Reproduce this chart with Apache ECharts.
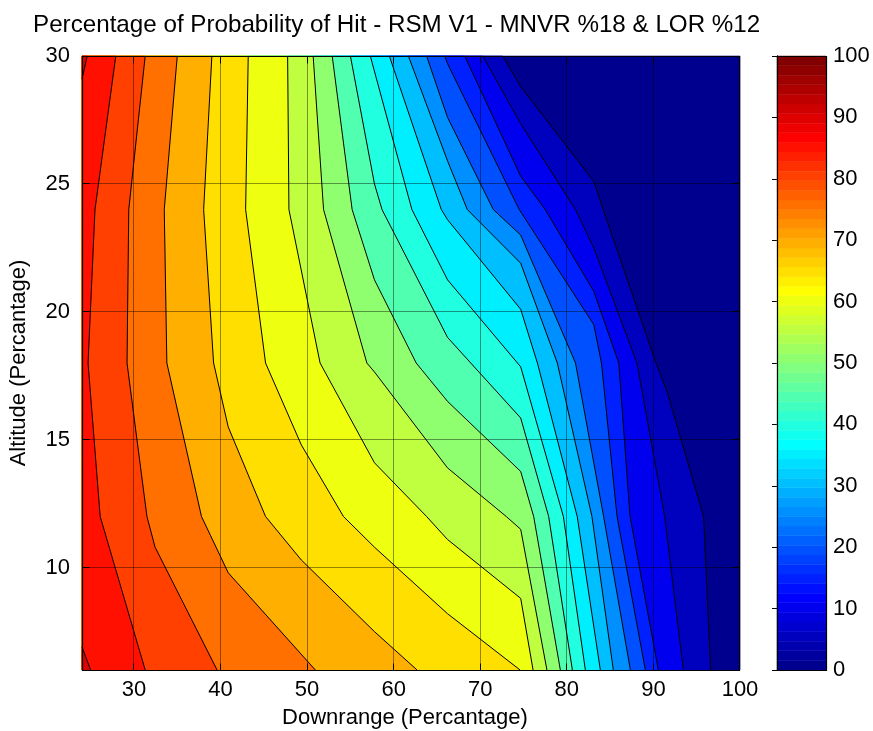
<!DOCTYPE html>
<html>
<head>
<meta charset="utf-8">
<script src="https://cdn.jsdelivr.net/npm/echarts@6/dist/echarts.min.js"></script>
<style>
  html, body { margin: 0; padding: 0; background: #fff; }
  #chart { width: 873px; height: 731px; }
</style>
</head>
<body>
<div id="chart"></div>
<script>
// Axis ranges and tick labels
const downrangeRange = [24, 100];
const altitudeRange = [6, 30];
const xTicks = [30, 40, 50, 60, 70, 80, 90, 100];
const yTicks = [10, 15, 20, 25, 30];
const colorbarTicks = [0, 10, 20, 30, 40, 50, 60, 70, 80, 90, 100];

// Iso-lines of probability of hit, points are [downrange, altitude],
// each listed from the top edge (altitude 30) downward.
const iso05 = [[72.6, 30], [74.67, 28.8], [83.11, 25.1], [84.2, 24], [90.3, 18], [91.56, 16.9], [95.8, 12], [96.6, 6]];
const iso10 = [[70.3, 30], [74.67, 27.35], [81.0, 24], [83.11, 22.5], [88.1, 18], [91.3, 12], [93.46, 6]];
const iso15 = [[68.2, 30], [74.67, 25.3], [77.5, 24], [83.11, 20.8], [86.0, 18], [87.3, 12], [90.57, 6]];
const iso20 = [[65.9, 30], [66.22, 29.7], [74.5, 24], [83.11, 19.5], [84.0, 18], [85.8, 12], [89.07, 6]];
const iso25 = [[63.8, 30], [66.22, 27.6], [71.5, 24], [74.67, 23.0], [81.0, 18], [84.25, 12], [87.34, 6]];
const iso30 = [[61.7, 30], [66.22, 25.9], [68.5, 24], [74.67, 21.9], [78.9, 18], [82.9, 12], [85.37, 6]];
const iso35 = [[59.5, 30], [65.5, 24], [66.22, 23.6], [74.67, 20.1], [76.6, 18], [81.2, 12], [83.87, 6]];
const iso40 = [[57.3, 30], [62.1, 24], [66.22, 21.25], [74.67, 17.85], [79.6, 12], [82.14, 6]];
const iso45 = [[55.0, 30], [57.78, 25.0], [58.65, 24], [66.22, 19.0], [68.9, 18], [74.67, 15.85], [77.9, 12], [80.64, 6]];
const iso50 = [[52.9, 30], [55.2, 24], [57.78, 21.25], [62.6, 18], [66.22, 16.5], [74.67, 13.76], [76.17, 12], [79.25, 6]];
const iso55 = [[50.7, 30], [51.9, 24], [56.9, 18], [57.78, 17.65], [66.22, 13.9], [73.0, 12], [74.67, 11.5], [77.7, 6]];
const iso60 = [[47.75, 30], [47.9, 24], [51.5, 18], [57.78, 14.1], [63.8, 12], [66.22, 11.1], [74.67, 8.8], [76.1, 6]];
const iso65 = [[43.2, 30], [42.9, 24], [45.2, 18], [49.33, 14.8], [54.2, 12], [57.78, 10.8], [66.22, 8.2], [74.6, 6]];
const iso70 = [[39.0, 30], [38.05, 24], [39.2, 18], [40.89, 15.5], [45.2, 12], [49.33, 10.3], [57.78, 7.5], [62.7, 6]];
const iso75 = [[35.0, 30], [33.5, 24], [33.8, 18], [37.8, 12], [40.89, 9.8], [50.95, 6]];
const iso80 = [[31.3, 30], [29.4, 24], [29.2, 18], [31.5, 12], [32.44, 10.8], [39.6, 6]];
const iso85 = [[27.9, 30], [25.5, 24], [24.7, 18], [26.1, 12], [31.3, 6]];
const iso90top = [[24.6, 30], [24, 29.1]];
const iso90bottom = [[24, 6.9], [25.0, 6]];

// Filled bands: everything on the low-downrange side of a line is at or above its level
const [X0, X1] = downrangeRange;
const [Y0, Y1] = altitudeRange;
const leftCorners = [[X0, Y0], [X0, Y1]];
const bandDefs = [
  { level: 0,  outline: [[X0, Y1], [X1, Y1], [X1, Y0], [X0, Y0]] },
  { level: 5,  line: iso05, close: leftCorners },
  { level: 10, line: iso10, close: leftCorners },
  { level: 15, line: iso15, close: leftCorners },
  { level: 20, line: iso20, close: leftCorners },
  { level: 25, line: iso25, close: leftCorners },
  { level: 30, line: iso30, close: leftCorners },
  { level: 35, line: iso35, close: leftCorners },
  { level: 40, line: iso40, close: leftCorners },
  { level: 45, line: iso45, close: leftCorners },
  { level: 50, line: iso50, close: leftCorners },
  { level: 55, line: iso55, close: leftCorners },
  { level: 60, line: iso60, close: leftCorners },
  { level: 65, line: iso65, close: leftCorners },
  { level: 70, line: iso70, close: leftCorners },
  { level: 75, line: iso75, close: leftCorners },
  { level: 80, line: iso80, close: leftCorners },
  { level: 85, line: iso85, close: leftCorners },
  { level: 90, line: iso90top, close: [[X0, Y1]] },
  { level: 90, line: iso90bottom, close: [[X0, Y0]] }
];
const isoLines = [iso05, iso10, iso15, iso20, iso25, iso30, iso35, iso40, iso45,
  iso50, iso55, iso60, iso65, iso70, iso75, iso80, iso85, iso90top, iso90bottom];

// MATLAB-style 64 step jet colormap
function jetMap(m) {
  const n = Math.ceil(m / 4);
  const u = [];
  for (let i = 1; i <= n; i++) u.push(i / n);
  for (let i = 1; i <= n - 1; i++) u.push(1);
  for (let i = n; i >= 1; i--) u.push(i / n);
  const g0 = Math.ceil(n / 2) - (m % 4 === 1 ? 1 : 0);
  const map = [];
  for (let i = 0; i < m; i++) map.push([0, 0, 0]);
  for (let k = 0; k < u.length; k++) {
    const g = g0 + k + 1, r = g + n, b = g - n;
    if (r >= 1 && r <= m) map[r - 1][0] = u[k];
    if (g >= 1 && g <= m) map[g - 1][1] = u[k];
    if (b >= 1 && b <= m) map[b - 1][2] = u[k];
  }
  return map.map(c => 'rgb(' + c.map(v => Math.round(v * 255)).join(',') + ')');
}
const jet = jetMap(64);
const colorOf = v => jet[Math.min(63, Math.floor(v / 100 * 64 + 1e-9))];

const bands = bandDefs.map(b => ({
  color: colorOf(b.level),
  outline: b.outline || b.line.concat(b.close)
}));

const FONT = 'Liberation Sans, Arial, Helvetica, sans-serif';
const half = v => Math.round(v - 0.5) + 0.5;

const chart = echarts.init(document.getElementById('chart'));

chart.setOption({
  animation: false,
  backgroundColor: '#fff',
  title: {
    text: 'Percentage of Probability of Hit - RSM V1 - MNVR %18 & LOR %12',
    left: 28, top: 8,
    textStyle: { fontFamily: FONT, fontSize: 24.2, fontWeight: 'normal', color: '#000' }
  },
  grid: [
    { left: 82, top: 56, width: 658, height: 614, outerBoundsMode: 'none' },
    { left: 777, top: 56, width: 49, height: 614, outerBoundsMode: 'none' }
  ],
  xAxis: [
    {
      type: 'value', gridIndex: 0, min: X0, max: X1,
      axisLine: { show: false }, axisTick: { show: false }, splitLine: { show: false },
      axisLabel: { customValues: xTicks, fontFamily: FONT, fontSize: 22, color: '#000', margin: 9 },
      name: 'Downrange (Percantage)', nameLocation: 'middle', nameGap: 37,
      nameTextStyle: { fontFamily: FONT, fontSize: 22, color: '#000', padding: [0, 12, 0, 0] }
    },
    { type: 'value', gridIndex: 1, min: 0, max: 1, show: false }
  ],
  yAxis: [
    {
      type: 'value', gridIndex: 0, min: Y0, max: Y1,
      axisLine: { show: false }, axisTick: { show: false }, splitLine: { show: false },
      axisLabel: { customValues: yTicks, fontFamily: FONT, fontSize: 22, color: '#000', margin: 12 },
      name: 'Altitude (Percantage)', nameLocation: 'middle', nameGap: 52,
      nameTextStyle: { fontFamily: FONT, fontSize: 22, color: '#000' }
    },
    {
      type: 'value', gridIndex: 1, min: 0, max: 100, interval: 10, position: 'right',
      axisLine: { show: true, lineStyle: { color: '#000', width: 1 } },
      axisTick: { show: true, inside: true, length: 5, lineStyle: { color: '#000' } },
      axisLabel: { customValues: colorbarTicks, fontFamily: FONT, fontSize: 22, color: '#000', margin: 7 },
      splitLine: { show: false }
    },
    {
      type: 'value', gridIndex: 1, min: 0, max: 100, interval: 10, position: 'left',
      axisLine: { show: true, lineStyle: { color: '#000', width: 1 } },
      axisTick: { show: true, inside: true, length: 5, lineStyle: { color: '#000' } },
      axisLabel: { show: false }, splitLine: { show: false }
    }
  ],
  series: [
    {
      // filled contour bands
      type: 'custom', xAxisIndex: 0, yAxisIndex: 0, silent: true, z: 1,
      data: bands.map((b, i) => [X0, Y0, i]),
      renderItem: (params, api) => {
        const b = bands[params.dataIndex];
        return {
          type: 'polygon',
          shape: { points: b.outline.map(p => api.coord(p)) },
          style: { fill: b.color, stroke: b.color, lineWidth: 0.6 }
        };
      }
    },
    {
      // grid lines
      type: 'custom', xAxisIndex: 0, yAxisIndex: 0, silent: true, z: 2,
      data: [[X0, Y0]],
      renderItem: (params, api) => {
        const children = [];
        const gs = { stroke: 'rgba(0,0,0,0.42)', lineWidth: 1 };
        xTicks.filter(v => v < X1).forEach(v => {
          const a = api.coord([v, Y0]), b = api.coord([v, Y1]);
          children.push({ type: 'line', shape: { x1: half(a[0]), y1: a[1], x2: half(b[0]), y2: b[1] }, style: gs });
        });
        yTicks.filter(v => v < Y1).forEach(v => {
          const a = api.coord([X0, v]), b = api.coord([X1, v]);
          children.push({ type: 'line', shape: { x1: a[0], y1: half(a[1]), x2: b[0], y2: half(b[1]) }, style: gs });
        });
        return { type: 'group', children };
      }
    },
    {
      // iso-lines
      type: 'custom', xAxisIndex: 0, yAxisIndex: 0, silent: true, z: 3,
      data: isoLines.map((l, i) => [X0, Y0, i]),
      renderItem: (params, api) => ({
        type: 'polyline',
        shape: { points: isoLines[params.dataIndex].map(p => api.coord(p)) },
        style: { stroke: '#000', lineWidth: 1, fill: null }
      })
    },
    {
      // axes box with inward ticks on all four sides
      type: 'custom', xAxisIndex: 0, yAxisIndex: 0, silent: true, z: 4,
      data: [[X0, Y0]],
      renderItem: (params, api) => {
        const tl = api.coord([X0, Y1]), br = api.coord([X1, Y0]);
        const L = half(tl[0]), T = half(tl[1]), R = half(br[0]), B = half(br[1]);
        const st = { stroke: '#000', lineWidth: 1 };
        const children = [{ type: 'rect', shape: { x: L, y: T, width: R - L, height: B - T }, style: { stroke: '#000', lineWidth: 1.2, fill: null } }];
        const tk = 7;
        xTicks.forEach(v => {
          const x = half(api.coord([v, Y0])[0]);
          children.push({ type: 'line', shape: { x1: x, y1: B, x2: x, y2: B - tk }, style: st });
          children.push({ type: 'line', shape: { x1: x, y1: T, x2: x, y2: T + tk }, style: st });
        });
        yTicks.forEach(v => {
          const y = half(api.coord([X0, v])[1]);
          children.push({ type: 'line', shape: { x1: L, y1: y, x2: L + tk, y2: y }, style: st });
          children.push({ type: 'line', shape: { x1: R, y1: y, x2: R - tk, y2: y }, style: st });
        });
        return { type: 'group', children };
      }
    },
    {
      // colour bar cells
      type: 'custom', xAxisIndex: 1, yAxisIndex: 1, silent: true, z: 1,
      data: jet.map((c, i) => [0, i * 100 / 64, i]),
      renderItem: (params, api) => {
        const i = params.dataIndex;
        const a = api.coord([0, (i + 1) * 100 / 64]), b = api.coord([1, i * 100 / 64]);
        return {
          type: 'rect',
          shape: { x: a[0], y: a[1], width: b[0] - a[0], height: b[1] - a[1] },
          style: { fill: jet[i], stroke: jet[i], lineWidth: 0.5 }
        };
      }
    },
    {
      // colour bar frame
      type: 'custom', xAxisIndex: 1, yAxisIndex: 1, silent: true, z: 4,
      data: [[0, 0]],
      renderItem: (params, api) => {
        const a = api.coord([0, 100]), b = api.coord([1, 0]);
        return {
          type: 'rect',
          shape: { x: half(a[0]), y: half(a[1]), width: Math.round(b[0] - a[0]), height: Math.round(b[1] - a[1]) },
          style: { stroke: '#000', lineWidth: 1.2, fill: null }
        };
      }
    }
  ]
});
</script>
</body>
</html>
